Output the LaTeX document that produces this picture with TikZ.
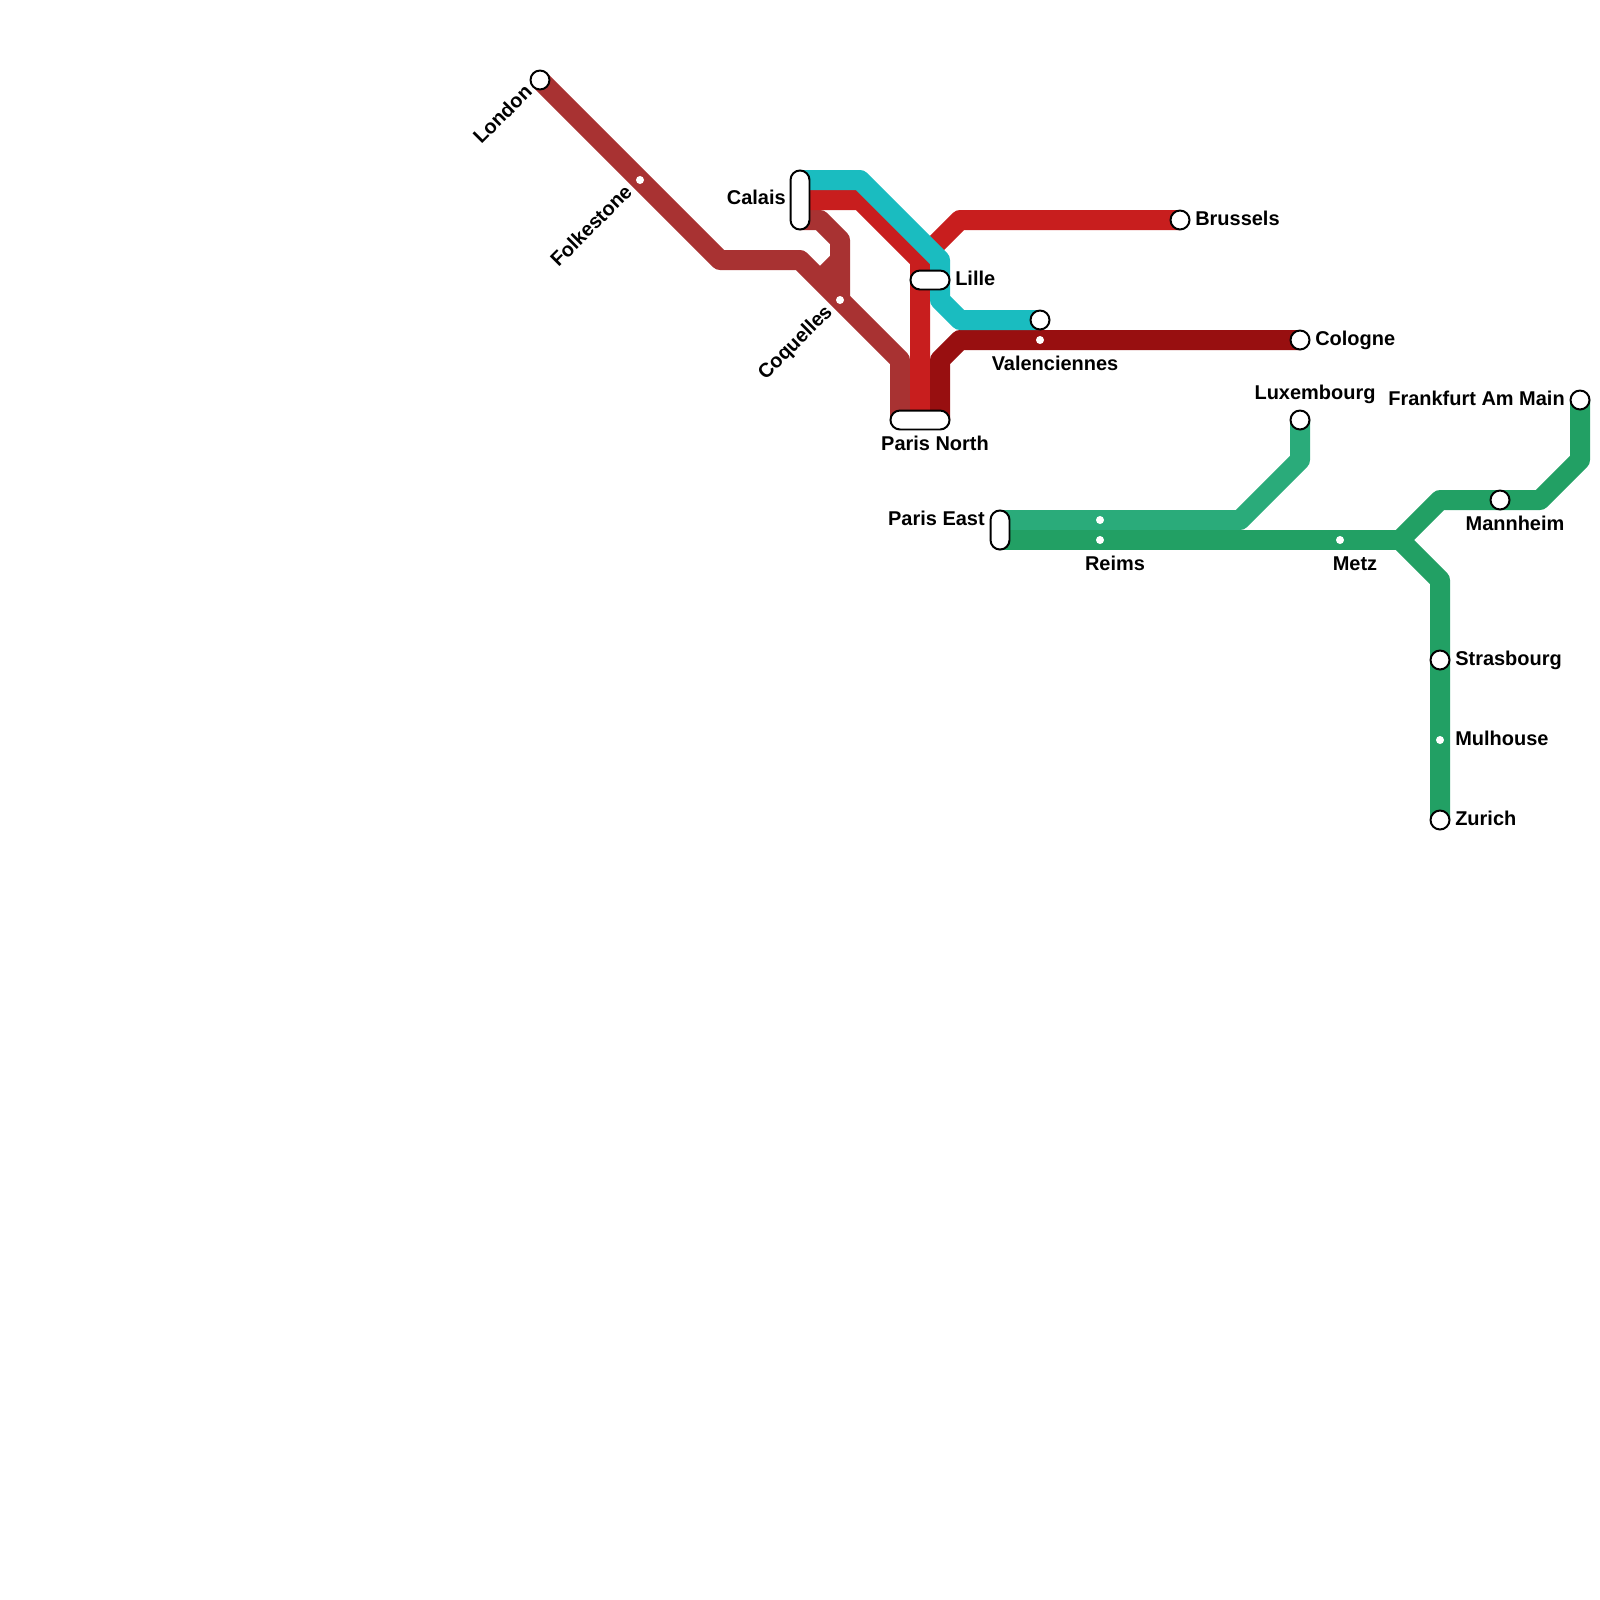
\documentclass[tikz,border=0pt]{standalone}
\usepackage{fontspec}
\setmainfont{Liberation Sans}
\usetikzlibrary{backgrounds}
\definecolor{linebrown}{HTML}{A83232}
\definecolor{linered}{HTML}{C81E1E}
\definecolor{linedark}{HTML}{980F10}
\definecolor{lineteal}{HTML}{1ABCC0}
\definecolor{linegreen}{HTML}{2AAB7A}
\definecolor{linedeep}{HTML}{22A064}
\tikzset{
  route/.style={line width=14.226pt, line join=round},
  stn/.style={circle, draw=black, fill=white, line width=1.4pt, minimum size=13.5pt, inner sep=0pt},
  capsule/.style={draw=black, fill=white, line width=1.4pt, rounded corners=6.75pt, inner sep=0pt},
  halt/.style={circle, fill=white, minimum size=5.7pt, inner sep=0pt},
  lab/.style={font=\fontsize{14.2}{17}\selectfont\bfseries, inner sep=0pt, text=black},
}

\begin{document}
\begin{tikzpicture}[x=5mm, y=-5mm]
    \useasboundingbox (0,0) rectangle (80,80);
    \node[stn] (london) at (27,4) {};
    \node[halt] (folkestone) at (32,9) {};
    \node[halt] (coquelles) at (42,15) {};
    \node[capsule, minimum width=13.5pt, minimum height=42pt] (calais) at (40,10) {};
    \node[capsule, minimum width=27.8pt, minimum height=13.5pt] (lille) at (46.5,14) {};
    \node[capsule, minimum width=42pt, minimum height=13.5pt] (parisnorth) at (46,21) {};
    \node[capsule, minimum width=13.5pt, minimum height=27.8pt] (pariseast) at (50,26.5) {};
    \node[stn] (valenciennes) at (52,16) {};
    \node[halt] (valendot) at (52,17) {};
    \node[stn] (brussels) at (59,11) {};
    \node[stn] (cologne) at (65,17) {};
    \node[stn] (luxembourg) at (65,21) {};
    \node[halt] (reimsa) at (55,26) {};
    \node[halt] (reimsb) at (55,27) {};
    \node[halt] (metz) at (67,27) {};
    \node[stn] (mannheim) at (75,25) {};
    \node[stn] (frankfurt) at (79,20) {};
    \node[stn] (strasbourg) at (72,33) {};
    \node[halt] (mulhouse) at (72,37) {};
    \node[stn] (zurich) at (72,41) {};
    \coordinate (calaisa) at (40,9);
    \coordinate (calaisb) at (40,10);
    \coordinate (calaisc) at (40,11);
    \coordinate (northa) at (45,21);
    \coordinate (northb) at (46,21);
    \coordinate (northc) at (47,21);
    \coordinate (easta) at (50,26);
    \coordinate (eastb) at (50,27);
    \coordinate (fork) at (70,27);
    \coordinate (lilletop) at (46,13);
    \begin{scope}[on background layer]
        \draw[route, linebrown] (london.center) -- (folkestone.center) -- (36,13) -- (40,13) -- (coquelles.center) -- (45,18) -- (northa);
        \draw[route, linebrown] (calaisc) -- (41,11) -- (42,12) -- (coquelles.center);
        \draw[route, linebrown] (42,13) -- (41,14);
        \draw[route, linered] (calaisb) -- (43,10) -- (lilletop) -- (northb);
        \draw[route, linered] (lilletop) -- (48,11) -- (brussels.center);
        \draw[route, linedark] (northc) -- (47,18) -- (48,17) -- (valendot.center) -- (cologne.center);
        \draw[route, lineteal] (calaisa) -- (43,9) -- (47,13) -- (47,15) -- (48,16) -- (valenciennes.center);
        \draw[route, linegreen] (easta) -- (reimsa.center) -- (62,26) -- (65,23) -- (luxembourg.center);
        \draw[route, linedeep] (eastb) -- (reimsb.center) -- (metz.center) -- (fork);
        \draw[route, linedeep] (fork) -- (72,25) -- (mannheim.center) -- (77,25) -- (79,23) -- (frankfurt.center);
        \draw[route, linedeep] (fork) -- (72,29) -- (strasbourg.center) -- (mulhouse.center) -- (zurich.center);
    \end{scope}
    \node[lab, rotate=45, anchor=base east] (londonlabel) at (26.67,4.65) {London};
    \node[lab, rotate=45, anchor=base east] (folkestonelabel) at (31.67,9.65) {Folkestone};
    \node[lab, rotate=45, anchor=base east] (coquelleslabel) at (41.67,15.65) {Coquelles};
    \node[lab, anchor=base east] (calaislabel) at (39.3,10.2) {Calais};
    \node[lab, anchor=base west] (lillelabel) at (47.75,14.25) {Lille};
    \node[lab, anchor=base] (parisnorthlabel) at (46.75,22.5) {Paris North};
    \node[lab, anchor=base east] (pariseastlabel) at (49.25,26.25) {Paris East};
    \node[lab, anchor=base] (valenlabel) at (52.75,18.5) {Valenciennes};
    \node[lab, anchor=base west] (brusselslabel) at (59.75,11.25) {Brussels};
    \node[lab, anchor=base west] (colognelabel) at (65.75,17.25) {Cologne};
    \node[lab, anchor=base] (luxlabel) at (65.75,19.95) {Luxembourg};
    \node[lab, anchor=base] (reimslabel) at (55.75,28.5) {Reims};
    \node[lab, anchor=base] (metzlabel) at (67.75,28.5) {Metz};
    \node[lab, anchor=base] (mannheimlabel) at (75.75,26.5) {Mannheim};
    \node[lab, anchor=base east] (frankfurtlabel) at (78.25,20.25) {Frankfurt Am Main};
    \node[lab, anchor=base west] (strasbourglabel) at (72.75,33.25) {Strasbourg};
    \node[lab, anchor=base west] (mulhouselabel) at (72.75,37.25) {Mulhouse};
    \node[lab, anchor=base west] (zurichlabel) at (72.75,41.25) {Zurich};
\end{tikzpicture}
\end{document}
